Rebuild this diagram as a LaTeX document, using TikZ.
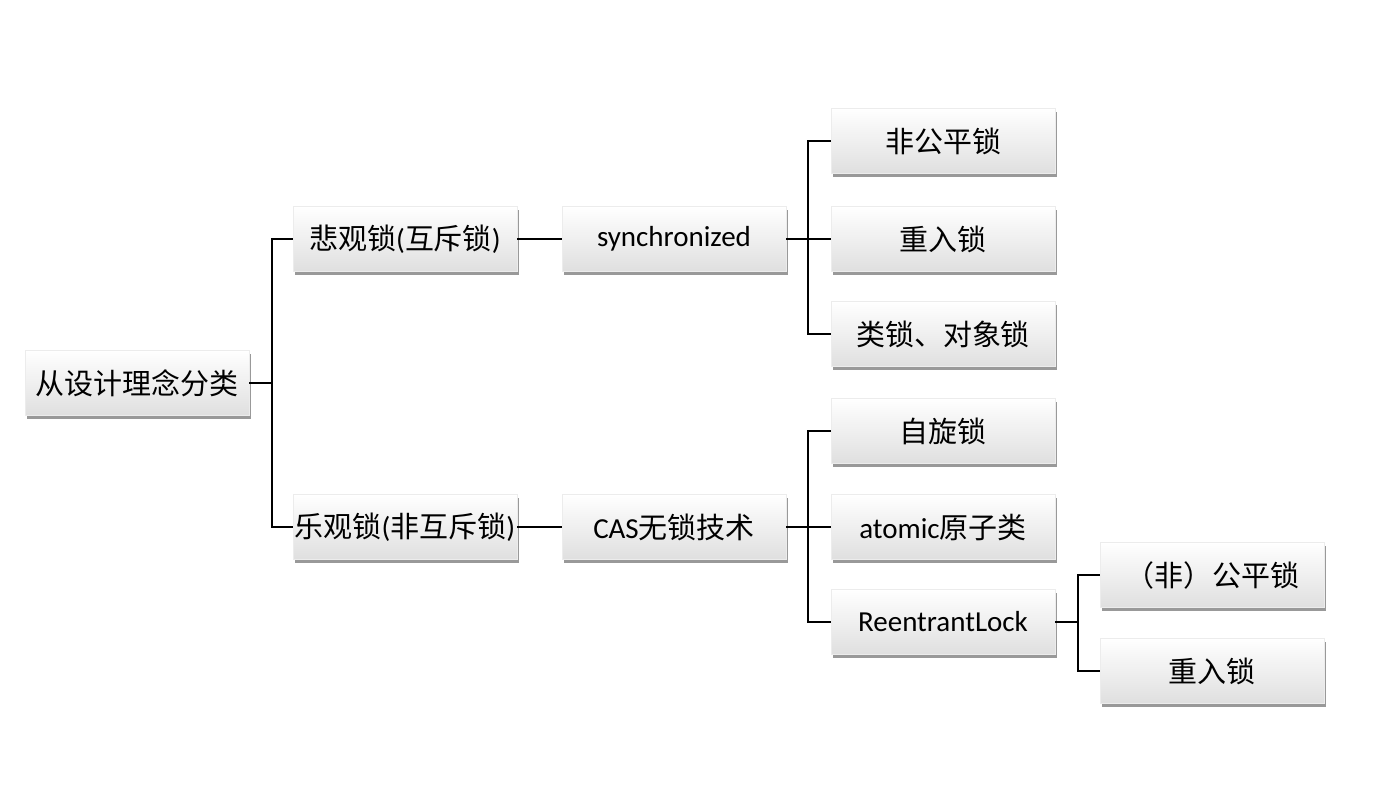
\documentclass[tikz,border=0pt]{standalone}
\usepackage{fontspec}
\setmainfont{Noto Sans CJK SC}
\newfontfamily\en{Carlito}
\usepackage{tikz}
\usetikzlibrary{shadows}

\begin{document}
\begin{tikzpicture}[x=0.02cm,y=-0.02cm]
        \tikzstyle{box}=[draw=gray!15, top color=white, bottom color=gray!25,
            minimum width=4.48cm, minimum height=1.3cm, inner sep=0pt,
            font=\fontsize{16.5}{19}\selectfont,
            drop shadow={shadow xshift=1pt, shadow yshift=-2.2pt, opacity=0.5, fill=black!80}]
        \tikzstyle{link}=[black, line width=1pt]
        \useasboundingbox (0,0) rectangle (1388,800);
        \node [box] (root) at (137,383) {从设计理念分类};
        \node [box] (pess) at (405,239) {悲观锁{\en(}互斥锁{\en)}};
        \node [box] (opt) at (405,527) {乐观锁{\en(}非互斥锁{\en)}};
        \node [box] (sync) at (674,239) {\en synchronized};
        \node [box] (cas) at (674,527) {{\en CAS}无锁技术};
        \node [box] (unfair) at (943,141) {非公平锁};
        \node [box] (reent) at (943,239) {重入锁};
        \node [box] (cls) at (943,334) {类锁、对象锁};
        \node [box] (spin) at (943,431) {自旋锁};
        \node [box] (atom) at (943,527) {{\en atomic}原子类};
        \node [box] (rlock) at (943,622) {\en ReentrantLock};
        \node [box] (fair) at (1212,575) {（非）公平锁};
        \node [box] (rlre) at (1212,671) {重入锁};
        \draw [link] (root.east) -- ++(23,0) |- (pess.west);
        \draw [link] (root.east) -- ++(23,0) |- (opt.west);
        \draw [link] (pess) -- (sync);
        \draw [link] (opt) -- (cas);
        \draw [link] (sync.east) -- ++(22,0) |- (unfair.west);
        \draw [link] (sync) -- (reent);
        \draw [link] (sync.east) -- ++(22,0) |- (cls.west);
        \draw [link] (cas.east) -- ++(22,0) |- (spin.west);
        \draw [link] (cas) -- (atom);
        \draw [link] (cas.east) -- ++(22,0) |- (rlock.west);
        \draw [link] (rlock.east) -- ++(23,0) |- (fair.west);
        \draw [link] (rlock.east) -- ++(23,0) |- (rlre.west);
        \end{tikzpicture}
\end{document}
